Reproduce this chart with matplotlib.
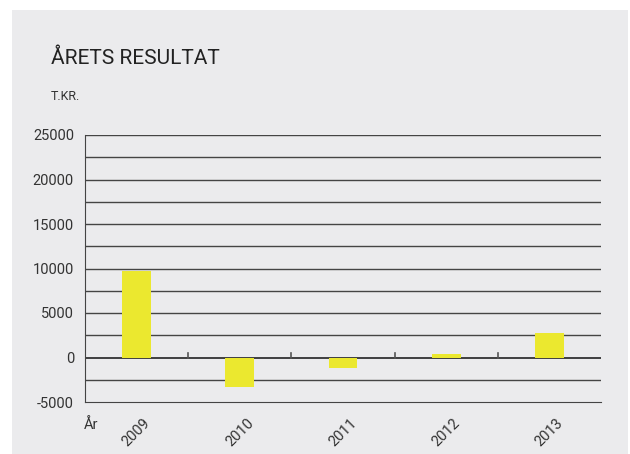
import matplotlib.pyplot as plt
from matplotlib.patches import Rectangle

# Årets resultat, t.kr.
years = ["2009", "2010", "2011", "2012", "2013"]
result = [9750, -3300, -1200, 350, 2700]
yticks = [-5000, 0, 5000, 10000, 15000, 20000, 25000]

plt.rcParams['font.family'] = ['Roboto', 'DejaVu Sans']

W, H = 630, 454
fig = plt.figure(figsize=(W / 100, H / 100), dpi=100, facecolor='white')
bg = '#ebebed'
fig.patches.append(Rectangle((12 / W, 0), (628 - 12) / W, (H - 10) / H,
                             transform=fig.transFigure, facecolor=bg,
                             edgecolor='none', zorder=-1))

ax = fig.add_axes([85 / W, 1 - 402 / H, (601 - 85) / W, (402 - 135) / H])
ax.set_facecolor(bg)

x = list(range(len(years)))
ax.bar(x, result, width=0.28, color='#ebe82f', zorder=2)

ax.set_xlim(-0.5, len(years) - 0.5)
ax.set_ylim(-5000, 25000)

# horizontal rules every 2500
for v in range(-2500, 25001, 2500):
    ax.axhline(v, color='#111111' if v == 0 else '#444444',
               lw=1.1 if v == 0 else 1.0, zorder=1)

# small ticks between categories on the zero line
for b in [0.5, 1.5, 2.5, 3.5]:
    ax.plot([b, b], [0, 500], color='#555555', lw=1.2, zorder=3)

txt = '#333333'
ax.set_yticks(yticks)
ax.set_yticklabels([str(v) for v in yticks], fontsize=10.5, color=txt)
ax.tick_params(axis='y', length=0, pad=8)
ax.set_xticks(x)
ax.set_xticklabels(years, rotation=45, fontsize=10.5, color=txt,
                   ha='center', va='top')
ax.tick_params(axis='x', length=0, pad=10)

for s in ['top', 'right']:
    ax.spines[s].set_visible(False)
ax.spines['left'].set_color('#444444')
ax.spines['bottom'].set_color('#444444')

fig.text(51 / W, 1 - 58 / H, "ÅRETS RESULTAT", fontsize=15, color='#222222',
         va='center', ha='left')
fig.text(51 / W, 1 - 97 / H, "T.KR.", fontsize=9, color=txt,
         va='center', ha='left')
fig.text(84 / W, 1 - 425 / H, "År", fontsize=10.5, color=txt,
         va='center', ha='left')

fig.savefig('out.png', dpi=100, facecolor='white')
